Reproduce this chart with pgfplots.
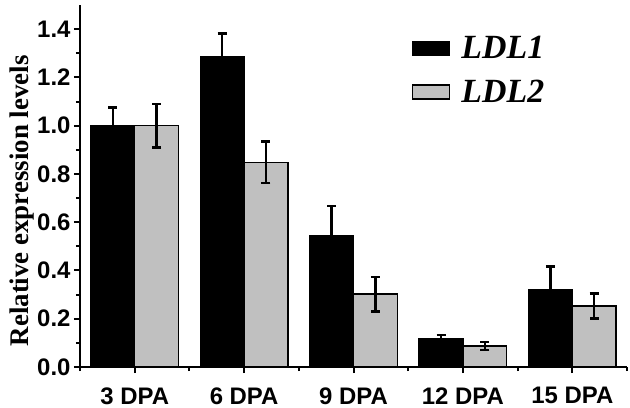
\documentclass[border=0pt]{standalone}
\usepackage{fontspec}
\setmainfont{Liberation Serif}
\newfontfamily\arial{Liberation Sans}
\usepackage{pgfplots}
\pgfplotsset{compat=1.18}
\definecolor{barg}{RGB}{192,192,192}
\begin{document}
\begin{tikzpicture}
\useasboundingbox (0,0) rectangle (630bp,408bp);
\begin{axis}[
  at={(80bp,41bp)}, anchor=south west,
  scale only axis, width=547bp, height=362bp,
  xmin=-0.5, xmax=4.5, ymin=0, ymax=1.5,
  axis x line*=bottom, axis y line*=left,
  axis line style={line width=2.3bp, black},
  ybar=0pt, bar width=0.4,
  xtick={0,1,2,3,4},
  xticklabels={3 DPA,6 DPA,9 DPA,12 DPA,15 DPA},
  minor xtick={-0.5,0.5,1.5,2.5,3.5,4.5},
  ytick={0,0.2,0.4,0.6,0.8,1.0,1.2,1.4},
  minor y tick num=1,
  tick align=outside, major tick length=6bp, minor tick length=4bp,
  tick style={line width=2bp, black},
  yticklabel style={/pgf/number format/.cd, fixed, fixed zerofill, precision=1, assume math mode=true},
  xticklabel style={yshift=-11bp},
  tick label style={font=\arial\bfseries\fontsize{24}{28}\selectfont},
  ylabel={Relative expression levels},
  ylabel style={font=\bfseries\fontsize{27}{30}\selectfont, at={(axis description cs:-0.106,0.459)}, anchor=center},
  legend style={draw=none, fill=none, at={(axis description cs:0.601,0.925)}, anchor=north west,
    font=\bfseries\itshape\fontsize{34}{38}\selectfont, row sep=16bp},
  legend cell align=left,
]
\addplot[fill=black, draw=black, line width=1.5bp,
  legend image code/.code={\draw[fill=black, draw=black, line width=1.5bp] (0bp,-7bp) rectangle (37bp,7bp); \path (46bp,0bp);},
  error bars/.cd, y dir=both, y explicit,
  error bar style={line width=2.3bp, black},
  error mark options={rotate=90, mark size=4.5bp, line width=2.3bp, black}]
coordinates {(0,1.0) +- (0,0.075) (1,1.285) +- (0,0.097) (2,0.543) +- (0,0.125) (3,0.119) +- (0,0.014) (4,0.319) +- (0,0.097)};
\addplot[fill=barg, draw=black, line width=1.5bp,
  legend image code/.code={\draw[fill=barg, draw=black, line width=1.5bp] (0bp,-7bp) rectangle (37bp,7bp); \path (46bp,0bp);},
  error bars/.cd, y dir=both, y explicit,
  error bar style={line width=2.3bp, black},
  error mark options={rotate=90, mark size=4.5bp, line width=2.3bp, black}]
coordinates {(0,1.0) +- (0,0.09) (1,0.848) +- (0,0.086) (2,0.302) +- (0,0.072) (3,0.087) +- (0,0.017) (4,0.253) +- (0,0.052)};
\legend{LDL1,LDL2}
\end{axis}
\end{tikzpicture}
\end{document}
